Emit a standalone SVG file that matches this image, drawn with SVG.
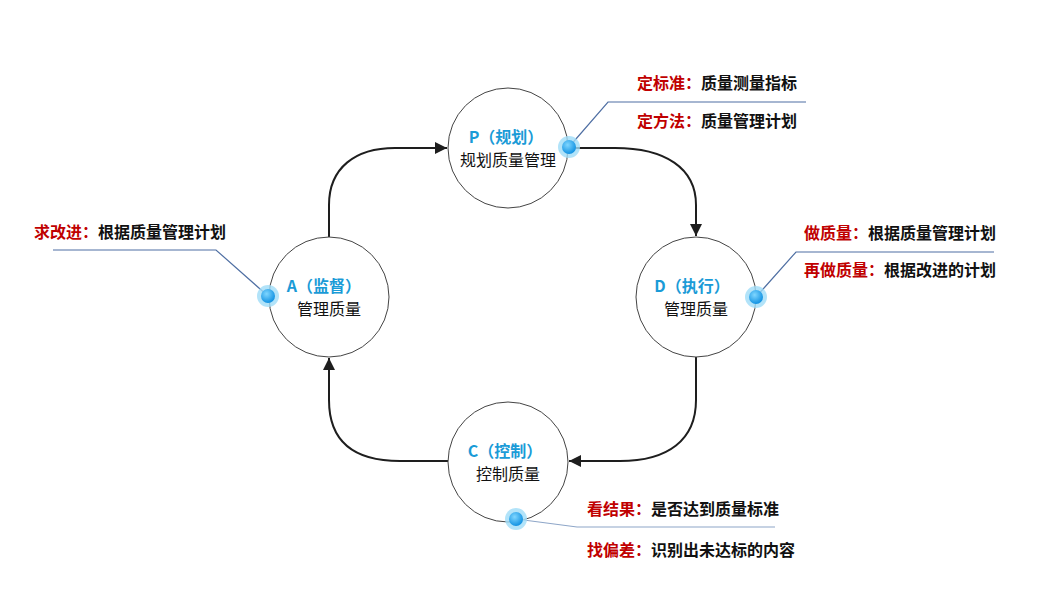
<svg xmlns="http://www.w3.org/2000/svg" width="1059" height="616" viewBox="0 0 1059 616">
<style>
.node{fill:#fff;stroke:#444;stroke-width:1}
.title{font-family:"Noto Sans CJK SC","Liberation Sans",sans-serif;font-size:16px;font-weight:bold;fill:#1a9bd7;text-anchor:middle}
.sub{font-family:"Noto Sans CJK SC","Liberation Sans",sans-serif;font-size:16px;fill:#111;text-anchor:middle}
.lab{font-family:"Noto Sans CJK SC","Liberation Sans",sans-serif;font-size:16px;font-weight:bold;fill:#111}
.red{fill:#c00000}
.conn{fill:none;stroke:#1e1e1e;stroke-width:2}
.lead{fill:none;stroke:#4f6fa3;stroke-width:1.2}
.glow{fill:#9fdcf8;opacity:0.8}
.core{fill:url(#dotg)}
</style>
<defs>
<marker id="arr" viewBox="0 0 10 10" refX="10" refY="5" markerWidth="12" markerHeight="12" markerUnits="userSpaceOnUse" orient="auto">
<path d="M0,0 L10,5 L0,10 z" fill="#1e1e1e"/>
</marker>
<radialGradient id="dotg" cx="0.4" cy="0.35" r="0.7">
<stop offset="0" stop-color="#7fd6ff"/>
<stop offset="1" stop-color="#0a8de0"/>
</radialGradient>
</defs>
<rect width="1059" height="616" fill="#fff"/>
<g id="connectors">
<path class="conn" d="M329,237 V205 C329,168 355,148 395,148 H447" marker-end="url(#arr)"/>
<path class="conn" d="M568,148 H615 C665,148 696,168 696,205 V236" marker-end="url(#arr)"/>
<path class="conn" d="M696,357 V400 C696,440 668,461 620,461 H569" marker-end="url(#arr)"/>
<path class="conn" d="M448,461 H400 C352,461 329,440 329,400 V358" marker-end="url(#arr)"/>
</g>
<g id="node-P">
<circle class="node" cx="508" cy="148" r="60"/>
<text class="title" x="506" y="143">P（规划）</text>
<text class="sub" x="508" y="166">规划质量管理</text>
</g>
<g id="node-D">
<circle class="node" cx="696" cy="297" r="60"/>
<text class="title" x="692" y="292">D（执行）</text>
<text class="sub" x="696" y="315">管理质量</text>
</g>
<g id="node-C">
<circle class="node" cx="508" cy="462" r="60"/>
<text class="title" x="505" y="457">C（控制）</text>
<text class="sub" x="508" y="480">控制质量</text>
</g>
<g id="node-A">
<circle class="node" cx="329" cy="297" r="60"/>
<text class="title" x="324" y="292">A（监督）</text>
<text class="sub" x="329" y="315">管理质量</text>
</g>
<g id="callout-P">
<path class="lead" d="M569,147 L608,102 H806"/>
<circle class="glow" cx="569" cy="147" r="11"/>
<circle class="core" cx="569" cy="147" r="7"/>
<text class="lab" x="637" y="89"><tspan class="red">定标准：</tspan>质量测量指标</text>
<text class="lab" x="637" y="127"><tspan class="red">定方法：</tspan>质量管理计划</text>
</g>
<g id="callout-D">
<path class="lead" d="M756,297 L796,252 H994"/>
<circle class="glow" cx="756" cy="297" r="11"/>
<circle class="core" cx="756" cy="297" r="7"/>
<text class="lab" x="804" y="239"><tspan class="red">做质量：</tspan>根据质量管理计划</text>
<text class="lab" x="804" y="276"><tspan class="red">再做质量：</tspan>根据改进的计划</text>
</g>
<g id="callout-C">
<path class="lead" d="M516,519 L577,527 H775" style="stroke:#8ea6c8"/>
<circle class="glow" cx="516" cy="519" r="11"/>
<circle class="core" cx="516" cy="519" r="7"/>
<text class="lab" x="587" y="515"><tspan class="red">看结果：</tspan>是否达到质量标准</text>
<text class="lab" x="587" y="556"><tspan class="red">找偏差：</tspan>识别出未达标的内容</text>
</g>
<g id="callout-A">
<path class="lead" d="M268,296 L216,250 H53"/>
<circle class="glow" cx="268" cy="296" r="11"/>
<circle class="core" cx="268" cy="296" r="7"/>
<text class="lab" x="34" y="238"><tspan class="red">求改进：</tspan>根据质量管理计划</text>
</g>
</svg>
